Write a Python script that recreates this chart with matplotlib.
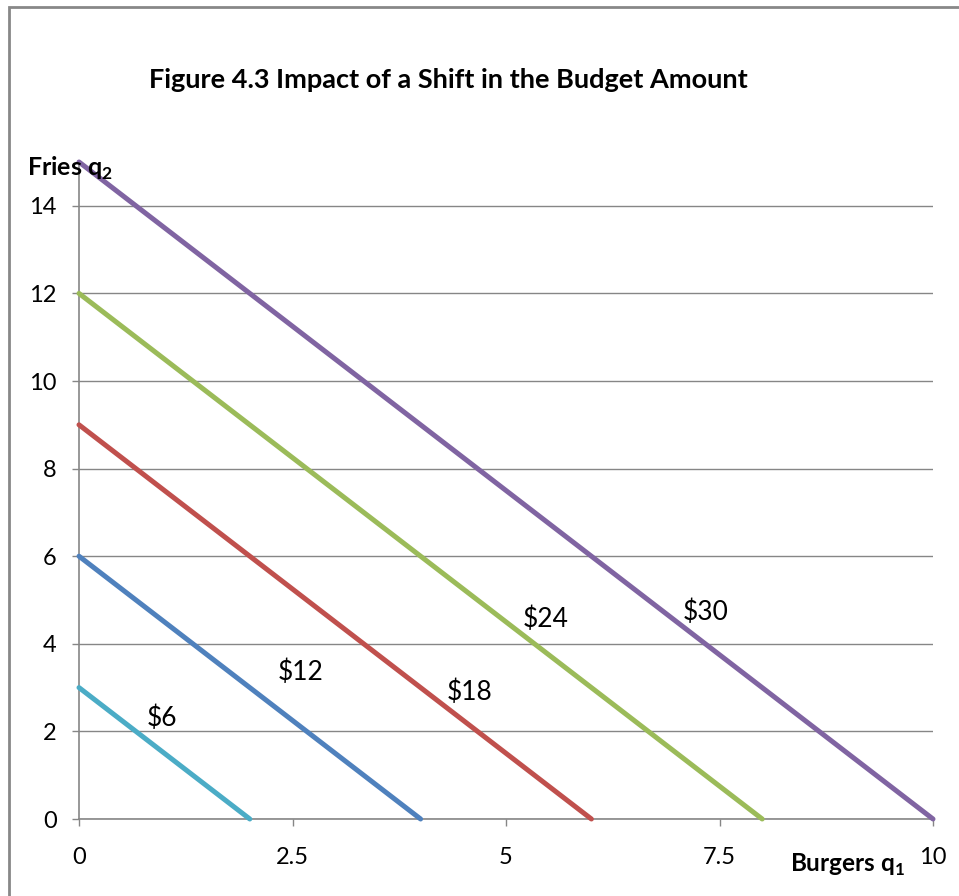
import matplotlib
matplotlib.use("Agg")
import matplotlib.pyplot as plt
from matplotlib.patches import Rectangle

# Data
budgets = [6, 12, 18, 24, 30]
q1_intercepts = [2, 4, 6, 8, 10]     # burgers at $3
q2_intercepts = [3, 6, 9, 12, 15]    # fries at $2
labels = ["$6", "$12", "$18", "$24", "$30"]
colors = ["#4BACC6", "#4F81BD", "#C0504D", "#9BBB59", "#8064A2"]
label_x = [0.97, 2.6, 4.57, 5.47, 7.34]
label_y = [2.3, 3.35, 2.9, 4.55, 4.73]
x_ticks = [0, 2.5, 5, 7.5, 10]
x_tick_labels = ["0", "2.5", "5", "7.5", "10"]
y_ticks = [0, 2, 4, 6, 8, 10, 12, 14]

plt.rcParams['font.family'] = ['Lato', 'DejaVu Sans']
plt.rcParams['mathtext.fontset'] = 'custom'
plt.rcParams['mathtext.rm'] = 'Lato'
plt.rcParams['mathtext.bf'] = 'Lato:bold'

W, H = 959, 896
fig = plt.figure(figsize=(W / 100, H / 100), dpi=100)
ax = fig.add_axes([79 / W, 1 - 819 / H, (933 - 79) / W, (819 - 162) / H])

grid_c = "#868686"
for yt in y_ticks:
    ax.axhline(yt, color=grid_c, lw=1.0, zorder=1)

for xi, yi, c in zip(q1_intercepts, q2_intercepts, colors):
    ax.plot([0, xi], [yi, 0], color=c, lw=3.6, solid_capstyle="round", zorder=3, clip_on=False)

for lx, ly, t in zip(label_x, label_y, labels):
    ax.text(lx, ly, t, fontsize=19, ha="center", va="center", color="black", zorder=4)

ax.set_xlim(0, 10)
ax.set_ylim(0, 15)
ax.set_xticks(x_ticks)
ax.set_xticklabels(x_tick_labels)
ax.set_yticks(y_ticks)
for s in ["top", "right"]:
    ax.spines[s].set_visible(False)
for s in ["left", "bottom"]:
    ax.spines[s].set_color(grid_c)
    ax.spines[s].set_linewidth(1.2)
ax.tick_params(axis="x", direction="out", length=5, width=1, color=grid_c, pad=15, labelsize=17)
ax.tick_params(axis="y", direction="out", length=5, width=1, color=grid_c, pad=11, labelsize=17)

fig.text(448 / W, 1 - 80 / H, "Figure 4.3 Impact of a Shift in the Budget Amount",
         fontsize=19.5, fontweight="bold", ha="center", va="center")
fig.text(27 / W, 1 - 168 / H, r"Fries q$_\mathbf{2}$", fontsize=18, fontweight="bold",
         ha="left", va="center")
fig.text(790 / W, 1 - 865 / H, r"Burgers q$_\mathbf{1}$", fontsize=17.5, fontweight="bold",
         ha="left", va="center")

fig.patches.append(Rectangle((9 / W, -0.1), 1.2, 1 - 7 / H + 0.1, transform=fig.transFigure,
                             fill=False, edgecolor="#888888", lw=2, zorder=0))

fig.savefig("out.png", dpi=100)
